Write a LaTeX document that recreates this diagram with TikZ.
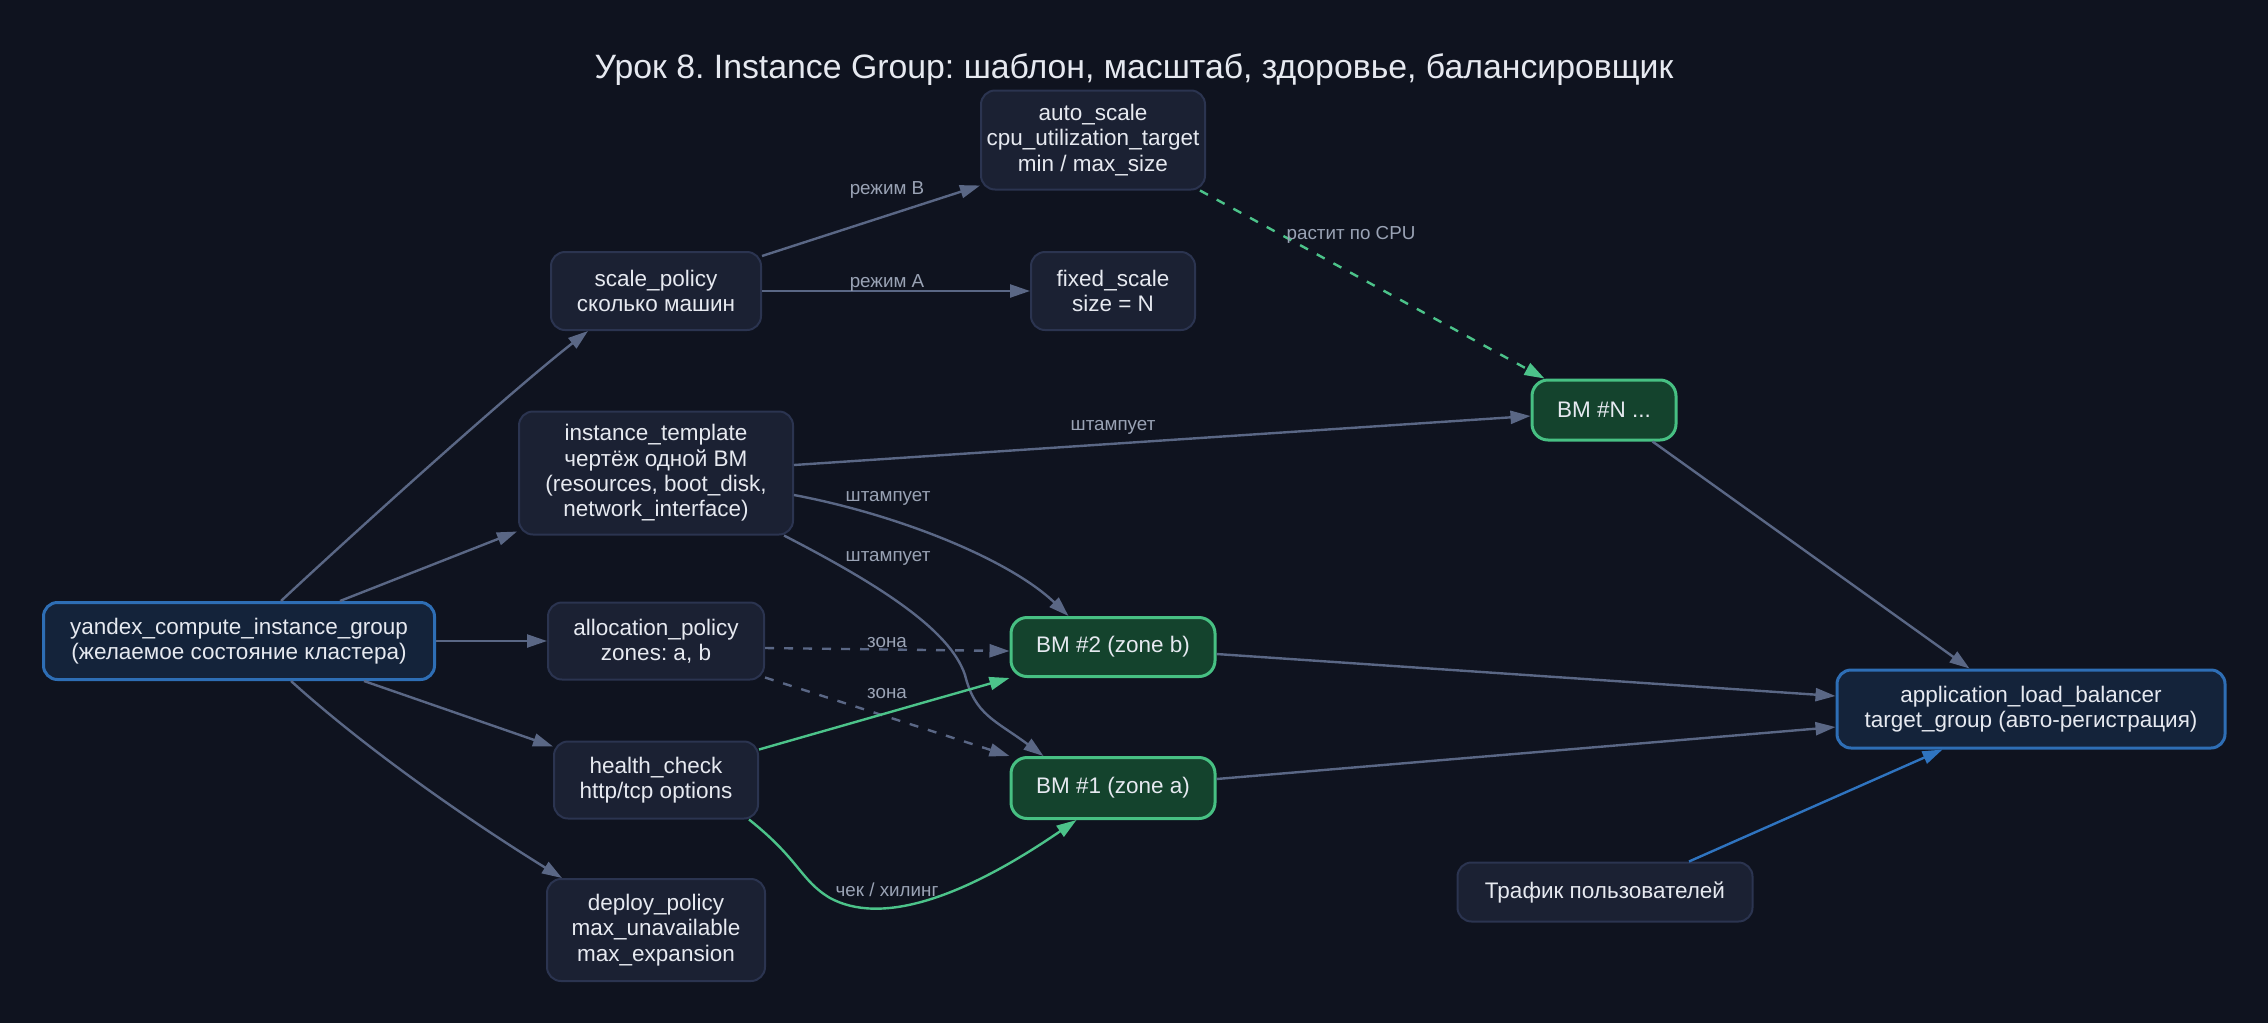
\documentclass[tikz,border=0pt]{standalone}
\usepackage{fontspec}
\setmainfont{Liberation Sans}
\usetikzlibrary{arrows.meta}
\frenchspacing
\definecolor{bg}{HTML}{0F131F}
\definecolor{nodefill}{HTML}{1B2133}
\definecolor{nodeborder}{HTML}{2B3450}
\definecolor{txt}{HTML}{E6E9F0}
\definecolor{lblc}{HTML}{9AA3B5}
\definecolor{edgec}{HTML}{5A6785}
\definecolor{gfill}{HTML}{14432D}
\definecolor{gborder}{HTML}{47C083}
\definecolor{gedgec}{HTML}{4CC38A}
\definecolor{bfill}{HTML}{14233A}
\definecolor{bborder}{HTML}{2E6EB5}
\definecolor{bedgec}{HTML}{2F74C0}
\newcommand\ndfont{\fontsize{11.25}{12.7}\selectfont}
\newcommand\lbfont{\fontsize{9.4}{11}\selectfont}
\newcommand\ttlfont{\fontsize{16.9}{20}\selectfont}
\tikzset{
  box/.style={draw=nodeborder, fill=nodefill, rounded corners=7pt, line width=1pt,
    text=txt, align=center, font=\ndfont, inner sep=0pt},
  vmbox/.style={box, draw=gborder, fill=gfill, line width=1.5pt, rounded corners=8pt},
  bluebox/.style={box, draw=bborder, fill=bfill, line width=1.5pt},
  edge/.style={draw=edgec, line width=1.2pt, -{Triangle[length=10pt,width=6.5pt]}},
  gedge/.style={edge, draw=gedgec},
  bedge/.style={edge, draw=bedgec},
  dashedge/.style={edge, dash pattern=on 4.5pt off 5pt},
  lbl/.style={text=lblc, font=\lbfont, inner sep=0pt},
}
\begin{document}
\begin{tikzpicture}[x=0.5pt,y=-0.5pt]
\path[fill=bg, use as bounding box] (0,0) rectangle (2268,1023);

\node[text=txt, font=\ttlfont] (title) at (1134,70) {Урок 8. Instance Group: шаблон, масштаб, здоровье, балансировщик};

\node[bluebox, minimum width=195.5pt, minimum height=38.5pt] (yig) at (239,641) {yandex\_compute\_instance\_group\\(желаемое состояние кластера)};
\node[box, minimum width=105pt, minimum height=39pt] (sp) at (656,291) {scale\_policy\\сколько машин};
\node[box, minimum width=137pt, minimum height=61.5pt] (it) at (656,473) {instance\_template\\чертёж одной ВМ\\(resources, boot\_disk,\\network\_interface)};
\node[box, minimum width=108pt, minimum height=38.5pt] (al) at (656,641) {allocation\_policy\\zones: a, b};
\node[box, minimum width=102pt, minimum height=38.5pt] (hc) at (656,780) {health\_check\\http/tcp options};
\node[box, minimum width=109pt, minimum height=51pt] (dp) at (656,930) {deploy\_policy\\max\_unavailable\\max\_expansion};
\node[box, minimum width=112pt, minimum height=49.5pt] (as) at (1093,140) {auto\_scale\\cpu\_utilization\_target\\min / max\_size};
\node[box, minimum width=82pt, minimum height=39pt] (fs) at (1113,291) {fixed\_scale\\size = N};
\node[vmbox, minimum width=72pt, minimum height=30pt] (vmN) at (1604,410) {ВМ \#N ...};
\node[vmbox, minimum width=102pt, minimum height=29.5pt] (vm2) at (1113,647) {ВМ \#2 (zone b)};
\node[vmbox, minimum width=102pt, minimum height=30.5pt] (vm1) at (1113,788) {ВМ \#1 (zone a)};
\node[bluebox, minimum width=194pt, minimum height=39pt] (alb) at (2031,709) {application\_load\_balancer\\target\_group (авто-регистрация)};
\node[box, minimum width=147.5pt, minimum height=29.5pt] (tr) at (1605,892) {Трафик пользователей};

% edges
\draw[edge] ([xshift=21pt]yig.north) .. controls (330,555) and (500,400) .. ([xshift=19pt]sp.south west);
\draw[edge] ([xshift=50.5pt]yig.north) -- ([shift={(-0.5pt,2pt)}]it.south west);
\draw[edge] (yig.east) -- (al.west);
\draw[edge] ([xshift=62.5pt]yig.south) -- ([yshift=-3pt]hc.north west);
\draw[edge] ([xshift=26pt]yig.south) .. controls (365,748) and (465,818) .. ([xshift=8pt]dp.north west);
\draw[edge] ([yshift=-2.5pt]sp.north east) -- ([yshift=2.5pt]as.south west);
\draw[edge] (sp.east) -- (fs.west);
\draw[gedge, dash pattern=on 4.5pt off 5pt] ([xshift=-3pt]as.south east) -- ([xshift=7pt]vmN.north west);
\draw[edge] ([yshift=4pt]it.east) -- ([yshift=-3pt]vmN.west);
\draw[edge] ([yshift=-11pt]it.east) .. controls (900,515) and (1010,560) .. ([xshift=29.5pt]vm2.north west);
\draw[edge] ([xshift=-5pt]it.south east) .. controls (880,585) and (950,630) .. (965,675) .. controls (975,715) and (995,720) .. ([xshift=17pt]vm1.north west);
\draw[dashedge] ([yshift=-3.5pt]al.east) -- ([yshift=-2pt]vm2.west);
\draw[dashedge] ([yshift=1.5pt]al.south east) -- (vm1.north west);
\draw[gedge] ([yshift=-4.5pt]hc.north east) -- (vm2.south west);
\draw[gedge] ([xshift=-5pt]hc.south east) .. controls (800,860) and (800,880) .. (830,898) .. controls (880,925) and (960,900) .. ([xshift=33.5pt]vm1.south west);
\draw[edge] ([xshift=-12.5pt]vmN.south east) -- ([xshift=67pt]alb.north west);
\draw[edge] ([yshift=-3.5pt]vm2.east) -- ([yshift=6.5pt]alb.west);
\draw[edge] ([yshift=4.5pt]vm1.east) -- ([yshift=-9pt]alb.west);
\draw[bedge] ([xshift=42pt]tr.north) -- ([xshift=53.5pt]alb.south west);

% edge labels
\node[lbl] (l1) at (887,190) {режим B};
\node[lbl] (l2) at (887,283) {режим A};
\node[lbl] (l3) at (1351,235) {растит по CPU};
\node[lbl] (l4) at (1113,427) {штампует};
\node[lbl] (l5) at (888,498) {штампует};
\node[lbl] (l6) at (888,558) {штампует};
\node[lbl] (l7) at (887,643) {зона};
\node[lbl] (l8) at (887,694) {зона};
\node[lbl] (l9) at (887,890) {чек / хилинг};
\end{tikzpicture}
\end{document}
